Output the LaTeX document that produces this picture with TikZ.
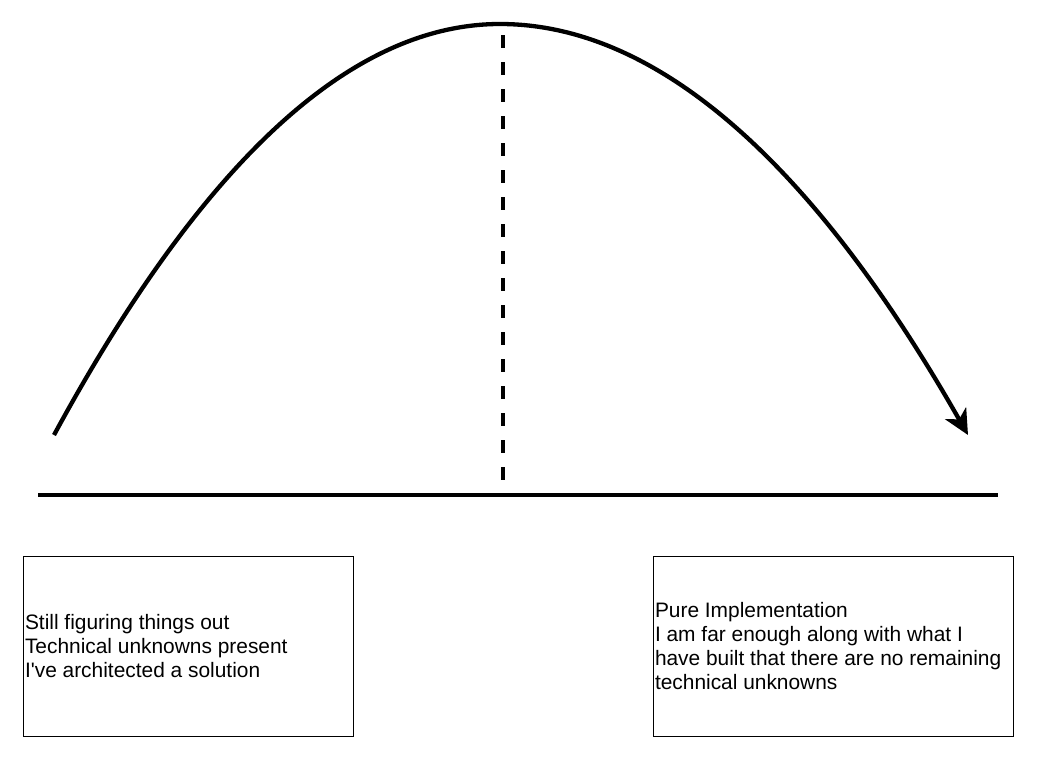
\documentclass[tikz,border=0pt]{standalone}
\usepackage{fontspec}
\setmainfont{Liberation Sans}
\usetikzlibrary{arrows.meta}

\tikzset{
	phasebox/.style={draw,line width=1pt,minimum height=180pt,inner xsep=2pt,align=flush left,font=\fontsize{20.9}{24}\selectfont},
}

\begin{document}
\begin{tikzpicture}[x=1pt,y=-1pt]
		\useasboundingbox (0,0) rectangle (1037,761);
		%Courbe
		\coordinate (start) at (54,435);
		\coordinate (peak) at (500,24);
		\coordinate (finish) at (968,435);
		\draw[line width=4.3pt,-{Stealth[length=25pt,width=24pt,inset=7pt]}] (start) .. controls (202.7,161) and (351.3,24) .. (peak) .. controls (656,24) and (812,161) .. (finish);

		% Axe et milieu
		\coordinate (axisL) at (38,495);
		\coordinate (axisR) at (998,495);
		\draw[line width=4.3pt] (axisL) -- (axisR);
		\coordinate (midtop) at (503,35);
		\coordinate (midbot) at (503,480);
		\draw[line width=4.3pt,dash pattern=on 13pt off 14pt] (midtop) -- (midbot);

		% Cadres
		\node[phasebox,minimum width=330pt,text width=326pt] (still) at (188,646) {Still figuring things out\\Technical unknowns present\\I\textquotesingle ve architected a solution};
		\node[phasebox,minimum width=360pt,text width=356pt] (pure) at (833,646) {Pure Implementation\\I am far enough along with what I\\have built that there are no remaining\\technical unknowns};
\end{tikzpicture}
\end{document}
